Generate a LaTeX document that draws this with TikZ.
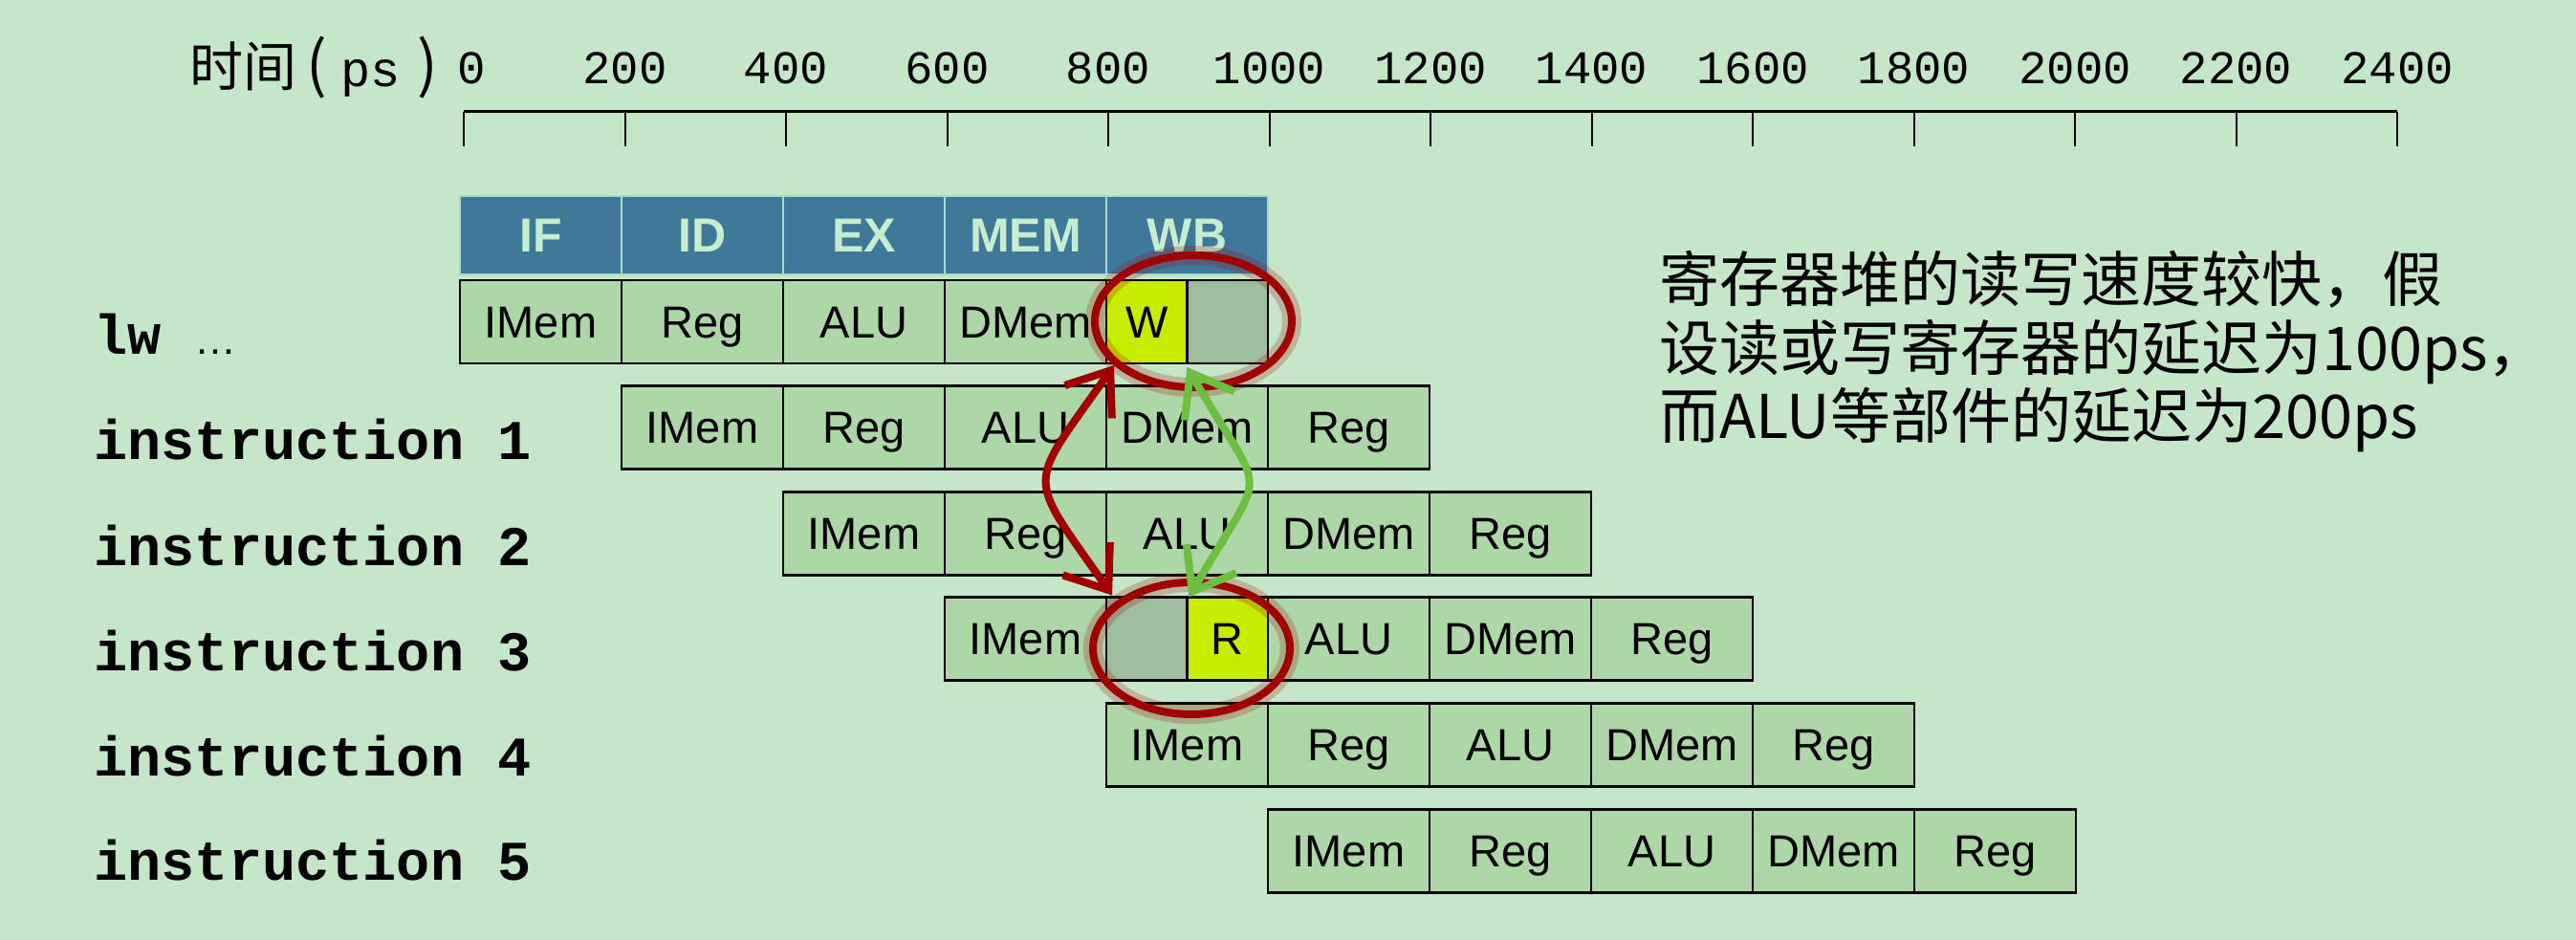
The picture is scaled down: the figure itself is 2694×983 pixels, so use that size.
\documentclass[tikz,border=0pt]{standalone}
\usepackage{fontspec}
\setmainfont{Liberation Sans}
\setmonofont{Liberation Mono}
\newfontfamily\cjk{Noto Sans CJK SC}
\usetikzlibrary{positioning, shapes.geometric, arrows.meta}

\definecolor{bgcol}{HTML}{C5E6C8}
\definecolor{cellcol}{HTML}{AED7A8}
\definecolor{hdrcol}{HTML}{40789A}
\definecolor{hdrtext}{HTML}{C6EDCE}
\definecolor{hdrline}{HTML}{A9D9C4}
\definecolor{wcol}{HTML}{C8EC00}
\definecolor{idlecol}{HTML}{9EBE9E}
\definecolor{ringred}{HTML}{A00000}
\definecolor{arrgreen}{HTML}{6CBF40}

\newcommand{\cellfont}{\fontsize{23.5}{26}\selectfont}
\newcommand{\hdrfont}{\fontsize{25}{28}\selectfont\bfseries}
\newcommand{\numfont}{\fontsize{24.5}{28}\selectfont\ttfamily}
\newcommand{\lblfont}{\fontsize{29.3}{33}\selectfont\ttfamily\bfseries}
\newcommand{\notefont}{\fontsize{31.5}{36}\selectfont\cjk}

\begin{document}
\begin{tikzpicture}[x=0.5pt, y=0.5pt,
    cell/.style={draw, line width=1.3pt, fill=cellcol, minimum width=84.5pt, minimum height=43.5pt, inner sep=0pt, outer sep=0pt,
        text height=16.8pt, text depth=0pt, font=\cellfont},
    halfcell/.style={cell, minimum width=42.25pt},
    hdr/.style={draw=hdrline, line width=1pt, fill=hdrcol, text=hdrtext, minimum width=84.5pt, minimum height=41pt, inner sep=0pt,
        text height=17.9pt, text depth=0pt, font=\hdrfont},
    lbl/.style={anchor=base west, inner sep=0pt, font=\lblfont},
    note/.style={anchor=base west, inner sep=0pt, font=\notefont},
    ring/.style={ellipse, draw=ringred, line width=4pt, minimum width=103pt, minimum height=69pt, inner sep=0pt,
        preaction={draw=ringred, draw opacity=0.22, line width=10pt}},
    redarrow/.style={draw=ringred, line width=4pt, {Straight Barb[length=20pt, width=30pt]}-{Straight Barb[length=20pt, width=30pt]}},
    greenarrow/.style={draw=arrgreen, line width=4pt, {Straight Barb[length=20pt, width=30pt]}-{Straight Barb[length=20pt, width=30pt]}}]

    \fill[bgcol] (0,0) rectangle (2694,-983);
    \useasboundingbox (0,0) rectangle (2694,-983);

    % time axis
    \node[anchor=base west, inner sep=0pt] (tlabel) at (198,-91)
        {\fontsize{28}{30}\selectfont\cjk 时间\hspace{5pt}{\fontsize{32}{34}\selectfont(}\hspace{7pt}{\fontsize{26}{28}\selectfont\ttfamily ps}\hspace{9pt}{\fontsize{32}{34}\selectfont)}};
    \draw[line width=1.5pt] (485,-117) -- (2507,-117);
    \foreach \k in {0,...,12}
        \draw[line width=1pt] (485+168.5*\k,-117) -- (485+168.5*\k,-153);
    \node[anchor=base, inner sep=0pt, font=\numfont] (t0) at (493,-88) {0};
    \foreach \k [evaluate=\k as \ps using int(200*\k)] in {1,...,12}
        \node[anchor=base, inner sep=0pt, font=\numfont] (t\k) at (485+168.5*\k,-88) {\ps};

    % stages
    \node[hdr] (h1) at (565.5,-246) {IF};
    \node[hdr] (h2) at (734.5,-246) {ID};
    \node[hdr] (h3) at (903.5,-246) {EX};
    \node[hdr] (h4) at (1072.5,-246) {MEM};
    \node[hdr] (h5) at (1241.5,-246) {WB};

    % lw
    \node[cell] (a1) at (565.5,-336.5) {IMem};
    \node[cell] (a2) at (734.5,-336.5) {Reg};
    \node[cell] (a3) at (903.5,-336.5) {ALU};
    \node[cell] (a4) at (1072.5,-336.5) {DMem};
    \node[halfcell, fill=wcol] (aw) at (1199.25,-336.5) {W};
    \node[halfcell, fill=idlecol] (ag) at (1283.75,-336.5) {};

    % instruction 1
    \node[cell] (b1) at (734.5,-447) {IMem};
    \node[cell] (b2) at (903.5,-447) {Reg};
    \node[cell] (b3) at (1072.5,-447) {ALU};
    \node[cell] (b4) at (1241.5,-447) {DMem};
    \node[cell] (b5) at (1410.5,-447) {Reg};

    % instruction 2
    \node[cell] (c1) at (903.5,-558) {IMem};
    \node[cell] (c2) at (1072.5,-558) {Reg};
    \node[cell] (c3) at (1241.5,-558) {ALU};
    \node[cell] (c4) at (1410.5,-558) {DMem};
    \node[cell] (c5) at (1579.5,-558) {Reg};

    % instruction 3
    \node[cell] (d1) at (1072.5,-668) {IMem};
    \node[halfcell, fill=idlecol] (dg) at (1199.25,-668) {};
    \node[halfcell, fill=wcol] (dr) at (1283.75,-668) {R};
    \node[cell] (d3) at (1410.5,-668) {ALU};
    \node[cell] (d4) at (1579.5,-668) {DMem};
    \node[cell] (d5) at (1748.5,-668) {Reg};

    % instruction 4
    \node[cell] (e1) at (1241.5,-779) {IMem};
    \node[cell] (e2) at (1410.5,-779) {Reg};
    \node[cell] (e3) at (1579.5,-779) {ALU};
    \node[cell] (e4) at (1748.5,-779) {DMem};
    \node[cell] (e5) at (1917.5,-779) {Reg};

    % instruction 5
    \node[cell] (f1) at (1410.5,-890) {IMem};
    \node[cell] (f2) at (1579.5,-890) {Reg};
    \node[cell] (f3) at (1748.5,-890) {ALU};
    \node[cell] (f4) at (1917.5,-890) {DMem};
    \node[cell] (f5) at (2086.5,-890) {Reg};

    % row labels
    \node[lbl] (l0) at (98,-371) {lw {\fontsize{22}{24}\selectfont\rmfamily\mdseries …}};
    \node[lbl] (l1) at (98,-481) {instruction 1};
    \node[lbl] (l2) at (98,-592) {instruction 2};
    \node[lbl] (l3) at (98,-702) {instruction 3};
    \node[lbl] (l4) at (98,-811) {instruction 4};
    \node[lbl] (l5) at (98,-920) {instruction 5};

    % note
    \node[note] (n1) at (1735,-316) {寄存器堆的读写速度较快，假};
    \node[note] (n2) at (1735,-388) {设读或写寄存器的延迟为100ps，};
    \node[note] (n3) at (1735,-459) {而ALU等部件的延迟为200ps};

    % write / read rings
    \node[ring] (ringW) at (1248,-336) {};
    \node[ring] (ringR) at (1246,-678) {};

    \draw[redarrow] ([xshift=4pt,yshift=-1pt]aw.south west) to[out=235, in=125, looseness=1.7] ([xshift=3pt,yshift=1pt]dg.north west);
    \draw[greenarrow] ([yshift=-2pt]aw.south east) to[out=-60, in=60, looseness=1.78] ([xshift=1pt]dr.north west);
\end{tikzpicture}
\end{document}
